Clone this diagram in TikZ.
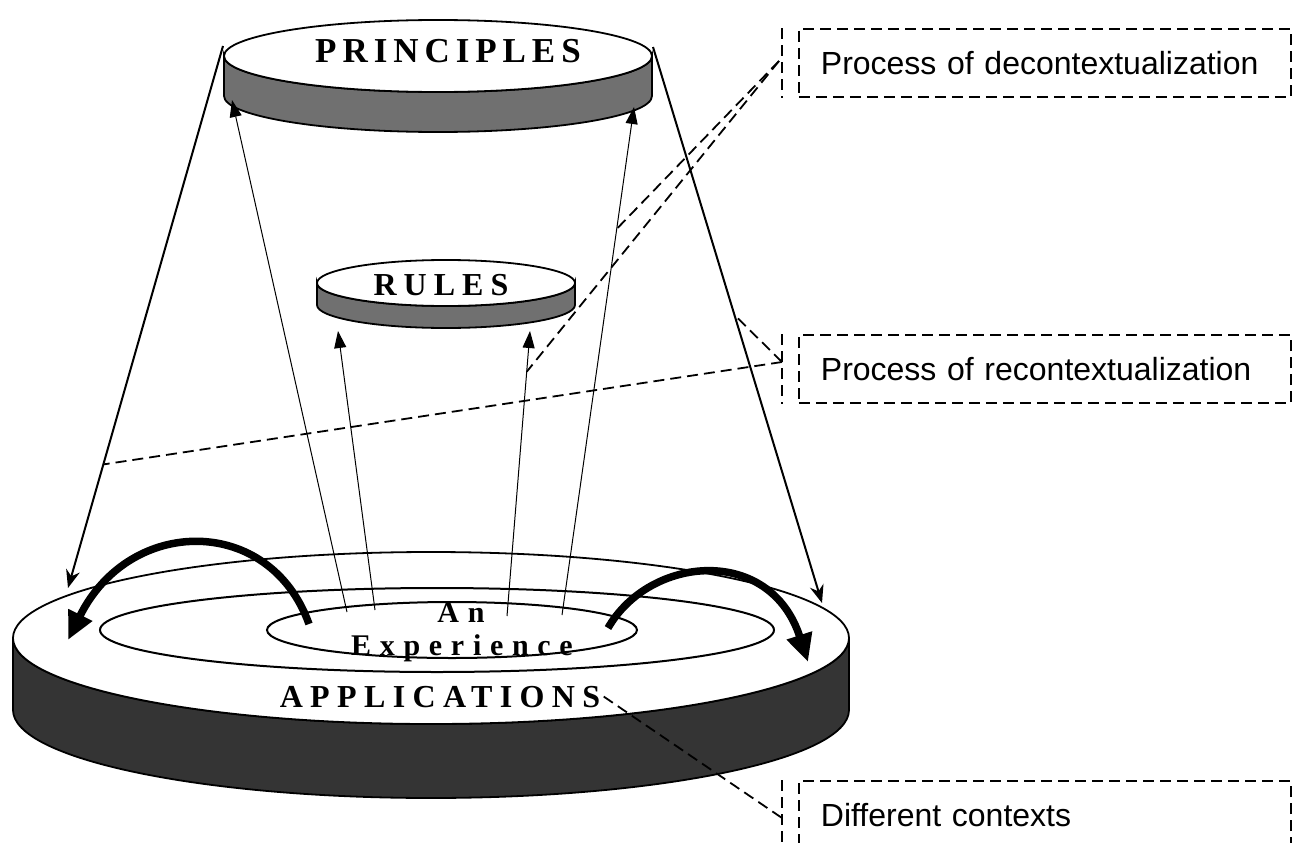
\documentclass[tikz,border=0pt]{standalone}
\usepackage{fontspec}
\setmainfont{Liberation Serif}
\newfontfamily\labelfont{Liberation Sans}
\usetikzlibrary{arrows.meta,positioning}
\definecolor{lightband}{RGB}{112,112,112}
\definecolor{darkband}{RGB}{52,52,52}

\begin{document}
\begin{tikzpicture}[x=1pt,y=1pt,
  disk/.style={draw=black,line width=1.8pt},
  ring/.style={draw=black,line width=2pt},
  rise/.style={-{Triangle[length=17pt,width=12pt]},line width=1pt},
  fall/.style={-{Stealth[length=18pt,width=14pt]},line width=2pt},
  swing/.style={-{Triangle[length=28pt,width=25pt]},line width=7.5pt},
  leader/.style={dash pattern=on 11pt off 6pt,line width=1.8pt},
  tag/.style={draw,leader,minimum width=492pt,minimum height=68pt,text width=448pt,
    inner xsep=22pt,align=left,anchor=west,font=\labelfont\fontsize{32}{36}\selectfont}]
\useasboundingbox (0,0) rectangle (1301,-843);

% the three disks
\filldraw[disk,fill=darkband] (13,-638) -- (13,-710) arc[start angle=180,end angle=360,x radius=418pt,y radius=88pt]
  -- (849,-638) arc[start angle=0,end angle=-180,x radius=418pt,y radius=86pt] -- cycle;
\filldraw[disk,fill=white] (431,-638) ellipse[x radius=418pt,y radius=86pt];
\draw[ring] (437,-630) ellipse[x radius=337pt,y radius=42pt];
\draw[ring] (452,-630) ellipse[x radius=185pt,y radius=28pt];

\filldraw[disk,fill=lightband] (224,-56) -- (224,-96) arc[start angle=180,end angle=360,x radius=214pt,y radius=36pt]
  -- (652,-56) arc[start angle=0,end angle=-180,x radius=214pt,y radius=36pt] -- cycle;
\filldraw[disk,fill=white] (438,-56) ellipse[x radius=214pt,y radius=36pt];

\filldraw[disk,fill=lightband] (317,-283) -- (317,-305) arc[start angle=180,end angle=360,x radius=129pt,y radius=23pt]
  -- (575,-283) arc[start angle=0,end angle=-180,x radius=129pt,y radius=23pt] -- cycle;
\filldraw[disk,fill=white] (446,-283) ellipse[x radius=129pt,y radius=23pt];

% labels on the disks
\node[anchor=base,font=\bfseries\fontsize{35}{38}\selectfont\addfontfeature{LetterSpace=17}] (principles) at (448,-63) {PRINCIPLES};
\node[anchor=base,font=\bfseries\fontsize{32}{36}\selectfont\addfontfeature{LetterSpace=22}] (rules) at (441,-295) {RULES};
\node[anchor=base,font=\bfseries\fontsize{30}{34}\selectfont\addfontfeature{LetterSpace=30}] (an) at (461,-622) {An};
\node[anchor=base,font=\bfseries\fontsize{30}{34}\selectfont\addfontfeature{LetterSpace=29}] (experience) at (462,-655) {Experience};
\node[anchor=base,font=\bfseries\fontsize{32}{36}\selectfont\addfontfeature{LetterSpace=23}] (applications) at (440,-707) {APPLICATIONS};

% end points
\coordinate (e1) at (347,-612); \coordinate (p1) at (232,-100);
\coordinate (e2) at (375,-610); \coordinate (r1) at (338,-331);
\coordinate (e3) at (507,-616); \coordinate (r2) at (530,-331);
\coordinate (e4) at (562,-615); \coordinate (p2) at (634,-107);
\coordinate (pl) at (223,-46);  \coordinate (al) at (68,-588);
\coordinate (pr) at (653,-47);  \coordinate (ar) at (822,-603);
\coordinate (cl) at (309,-624); \coordinate (cr) at (608,-628);

% arrows
\draw[rise] (e1) -- (p1);
\draw[rise] (e2) -- (r1);
\draw[rise] (e3) -- coordinate[pos=0.857] (dr) (r2);
\draw[rise] (e4) -- coordinate[pos=0.76] (dp) (p2);
\draw[fall] (pl) -- coordinate[pos=0.772] (gl) (al);
\draw[fall] (pr) -- coordinate[pos=0.482] (gr) (ar);
\draw[swing] (cl) .. controls (270,-515) and (130,-515) .. (68,-640);
\draw[swing] (cr) .. controls (650,-555) and (770,-545) .. (808,-662);

% notes
\node[tag] (decon) at (798,-63) {Process of decontextualization};
\node[tag] (recon) at (798,-369) {Process of recontextualization};
\node[tag] (contexts) at (798,-815) {Different contexts};
\foreach \lbl in {decon,recon,contexts}
  \draw[leader] ([xshift=-16pt]\lbl.north west) -- ([xshift=-16pt]\lbl.south west);

\draw[leader] ([xshift=-19pt,yshift=2pt]decon.west) -- (dp);
\draw[leader] ([xshift=-19pt,yshift=2pt]decon.west) -- (dr);
\draw[leader] ([xshift=-16pt,yshift=7pt]recon.west) -- (gr);
\draw[leader] ([xshift=-16pt,yshift=7pt]recon.west) -- (gl);
\draw[leader] (applications.east) -- ([xshift=-16pt,yshift=-3pt]contexts.west);
\end{tikzpicture}
\end{document}
